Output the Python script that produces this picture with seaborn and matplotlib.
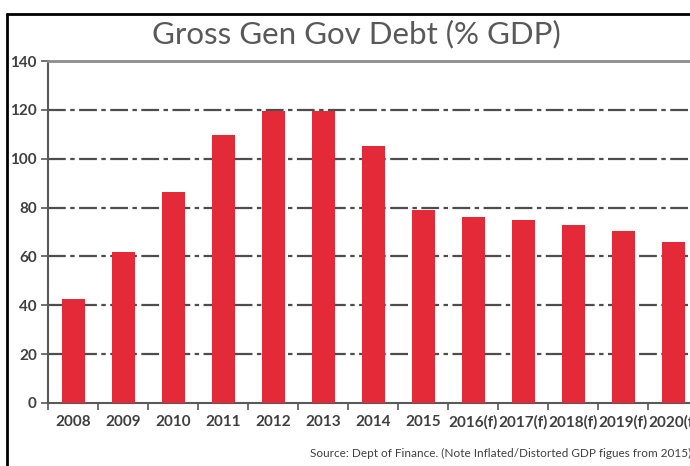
import matplotlib
matplotlib.use("Agg")
import matplotlib.pyplot as plt
from matplotlib.lines import Line2D
from matplotlib.ticker import FixedLocator
import seaborn as sns
import pandas as pd

# data
years = ["2008", "2009", "2010", "2011", "2012", "2013", "2014", "2015",
         "2016(f)", "2017(f)", "2018(f)", "2019(f)", "2020(f)"]
debt_pct = [42.6, 61.9, 86.5, 109.8, 119.7, 119.6, 105.3, 79.0,
            76.2, 75.0, 73.0, 70.5, 66.0]
y_ticks = [0, 20, 40, 60, 80, 100, 120, 140]

title = "Gross Gen Gov Debt (% GDP)"
source = "Source: Dept of Finance. (Note Inflated/Distorted GDP figues from 2015)"

df = pd.DataFrame({"year": years, "debt": debt_pct})

sns.set_theme(style="white")
plt.rcParams["font.family"] = ["Lato", "DejaVu Sans"]

fig = plt.figure(figsize=(6.9, 4.66), dpi=100)
# plot area runs past the right edge, as in the cropped original
ax = fig.add_axes([48 / 690, 63 / 466, 650 / 690, 342 / 466])

sns.barplot(data=df, x="year", y="debt", color="#E42938", saturation=1,
            width=0.46, ax=ax, zorder=3, linewidth=0)

ax.set_xlim(-0.5, len(years) - 0.5)
ax.set_ylim(0, 140)
ax.set_yticks(y_ticks)
ax.set_xlabel("")
ax.set_ylabel("")

# dash-dot gridlines
for v in y_ticks[1:-1]:
    ax.axhline(v, color="#4d4d4d", lw=1.6, ls=(0, (8, 2, 2, 2)), zorder=1)

for side in ["left", "bottom"]:
    ax.spines[side].set_color("#595959")
    ax.spines[side].set_linewidth(1.5)
ax.spines["right"].set_visible(False)
ax.spines["top"].set_color("#8c8c8c")
ax.spines["top"].set_linewidth(2)

ax.tick_params(axis="y", direction="out", length=5, width=1.2, color="#595959",
               labelsize=11, labelcolor="#404040", pad=3, left=True)
ax.tick_params(axis="x", which="major", length=0, labelsize=11,
               labelcolor="#404040", pad=9)
ax.xaxis.set_minor_locator(FixedLocator([i - 0.5 for i in range(len(years) + 1)]))
ax.tick_params(axis="x", which="minor", direction="out", length=5, width=1.2,
               color="#595959", bottom=True)
for lab in ax.get_xticklabels() + ax.get_yticklabels():
    lab.set_fontweight("bold")

fig.text(356 / 690, 1 - 34 / 466, title, ha="center", va="center",
         fontsize=22.5, color="#595959")
fig.text(310 / 690, 1 - 453 / 466, source, ha="left", va="center",
         fontsize=8.5, color="#404040")

# black outer frame (left and top edges visible)
fig.add_artist(Line2D([7 / 690, 7 / 690], [0, 1 - 14 / 466],
                      transform=fig.transFigure, color="black", lw=2))
fig.add_artist(Line2D([7 / 690, 1.0], [1 - 14 / 466, 1 - 14 / 466],
                      transform=fig.transFigure, color="black", lw=2))

fig.savefig("out.png", dpi=100)
